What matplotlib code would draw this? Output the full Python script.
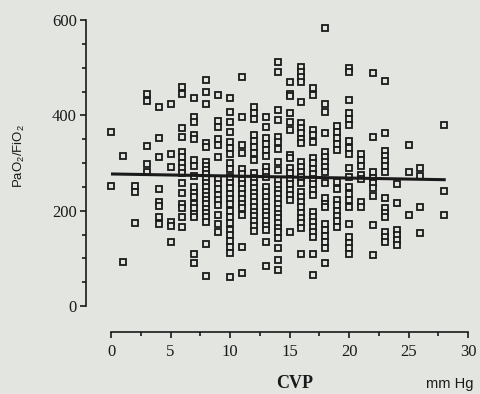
import matplotlib.pyplot as plt
from matplotlib.ticker import MultipleLocator

# CVP (mm Hg) columns and PaO2/FiO2 readings at each one
cvp = [0, 1, 2, 3, 4, 5, 6, 7, 8, 9, 10, 11, 12, 13, 14, 15,
       16, 17, 18, 19, 20, 21, 22, 23, 24, 25, 26, 28]
ratio = [
    [365, 252],
    [315, 93],
    [252, 240, 174],
    [445, 431, 336, 297, 281],
    [418, 352, 313, 245, 219, 210, 187, 173],
    [424, 319, 292, 176, 168, 135],
    [460, 445, 374, 355, 324, 312, 301, 290, 278, 257, 238, 215, 205, 187, 166],
    [437, 397, 385, 358, 350, 306, 294, 273, 250, 238, 229, 215, 205, 194, 186, 110, 90],
    [474, 448, 423, 341, 333, 303, 294, 285, 276, 267, 258, 249, 240, 231, 222, 213,
     204, 195, 186, 177, 131, 63],
    [443, 388, 376, 350, 338, 313, 266, 256, 245, 233, 222, 212, 191, 173, 155],
    [437, 408, 385, 366, 345, 332, 318, 300, 288, 270, 258, 247, 236, 225, 214, 200,
     187, 175, 160, 148, 136, 124, 111, 61],
    [481, 396, 338, 321, 287, 276, 265, 255, 245, 235, 225, 215, 206, 191, 123, 69],
    [418, 404, 392, 359, 346, 333, 320, 307, 278, 268, 258, 248, 238, 228, 218, 208,
     198, 188, 178, 168, 158],
    [396, 375, 352, 340, 327, 315, 292, 281, 271, 250, 240, 229, 218, 208, 198, 188,
     178, 168, 159, 135, 84],
    [512, 491, 411, 390, 355, 344, 330, 303, 285, 264, 254, 244, 234, 224, 214, 204,
     194, 184, 174, 164, 156, 142, 121, 96, 75],
    [469, 445, 440, 404, 387, 369, 316, 310, 289, 278, 266, 255, 244, 233, 222, 156],
    [501, 491, 480, 469, 429, 383, 373, 362, 351, 341, 303, 292, 282, 271, 257, 240,
     229, 218, 207, 196, 185, 174, 163, 110],
    [458, 443, 369, 359, 344, 310, 299, 288, 277, 266, 255, 244, 233, 198, 187, 176,
     166, 155, 145, 110, 66],
    [583, 423, 408, 362, 324, 313, 303, 292, 282, 257, 227, 215, 208, 173, 160, 147,
     134, 121, 90],
    [378, 365, 352, 339, 327, 261, 246, 222, 211, 200, 189, 178, 166],
    [499, 490, 432, 404, 392, 380, 346, 332, 318, 289, 271, 250, 236, 222, 207, 173,
     145, 133, 121, 110],
    [319, 306, 294, 274, 266, 219, 207],
    [488, 355, 282, 268, 258, 248, 231, 170, 107],
    [472, 363, 326, 315, 304, 293, 282, 226, 205, 196, 187, 155, 145, 134],
    [256, 216, 159, 149, 138, 128],
    [337, 282, 190],
    [289, 273, 208, 154],
    [380, 241, 191],
]
# regression line end points
fit_x = [0, 28]
fit_y = [277, 265]

bg = '#e3e5e1'
ink = '#1a1a1a'

xs = []
ys = []
for c, vals in zip(cvp, ratio):
    xs += [c] * len(vals)
    ys += vals

fig = plt.figure(figsize=(4.8, 3.94), dpi=100, facecolor=bg)
ax = fig.add_axes([111/480, 88/394, 357/480, 286/394])
ax.set_facecolor('none')

ax.plot(xs, ys, 's', ms=3.9, mfc=bg, mec=ink, mew=1.3, clip_on=False, zorder=3)
ax.plot(fit_x, fit_y, color=ink, lw=2.2, zorder=4)

ax.set_xlim(0, 30)
ax.set_ylim(0, 600)
for s in ('top', 'right'):
    ax.spines[s].set_visible(False)
ax.spines['left'].set_position(('outward', 18))
ax.spines['bottom'].set_position(('outward', 19))
ax.spines['left'].set_bounds(0, 600)
ax.spines['bottom'].set_bounds(0, 30)
for s in ('left', 'bottom'):
    ax.spines[s].set_linewidth(1.2)
    ax.spines[s].set_color(ink)

ax.xaxis.set_major_locator(MultipleLocator(5))
ax.xaxis.set_minor_locator(MultipleLocator(2.5))
ax.yaxis.set_major_locator(MultipleLocator(200))
ax.yaxis.set_minor_locator(MultipleLocator(50))
ax.tick_params(which='major', length=4.5, width=1.2, color=ink, labelcolor=ink)
ax.tick_params(which='minor', length=3, width=1.2, color=ink)
ax.tick_params(axis='y', pad=2)
ax.tick_params(axis='x', pad=4)
for lab in ax.get_xticklabels() + ax.get_yticklabels():
    lab.set_fontfamily('Liberation Serif')
    lab.set_fontsize(12)

fig.text(19/480, 1 - 156/394, r'PaO$_\mathregular{2}$/FiO$_\mathregular{2}$',
         rotation=90, ha='center', va='center', fontsize=9.5,
         family='Liberation Sans', color=ink)
fig.text(295/480, 1 - 384/394, 'CVP', ha='center', va='center',
         fontsize=13, fontweight='bold', family='Liberation Serif', color=ink)
fig.text(450/480, 1 - 384/394, 'mm Hg', ha='center', va='center',
         fontsize=10.5, family='Liberation Sans', color=ink)

fig.savefig('out.png', dpi=100, facecolor=bg)
